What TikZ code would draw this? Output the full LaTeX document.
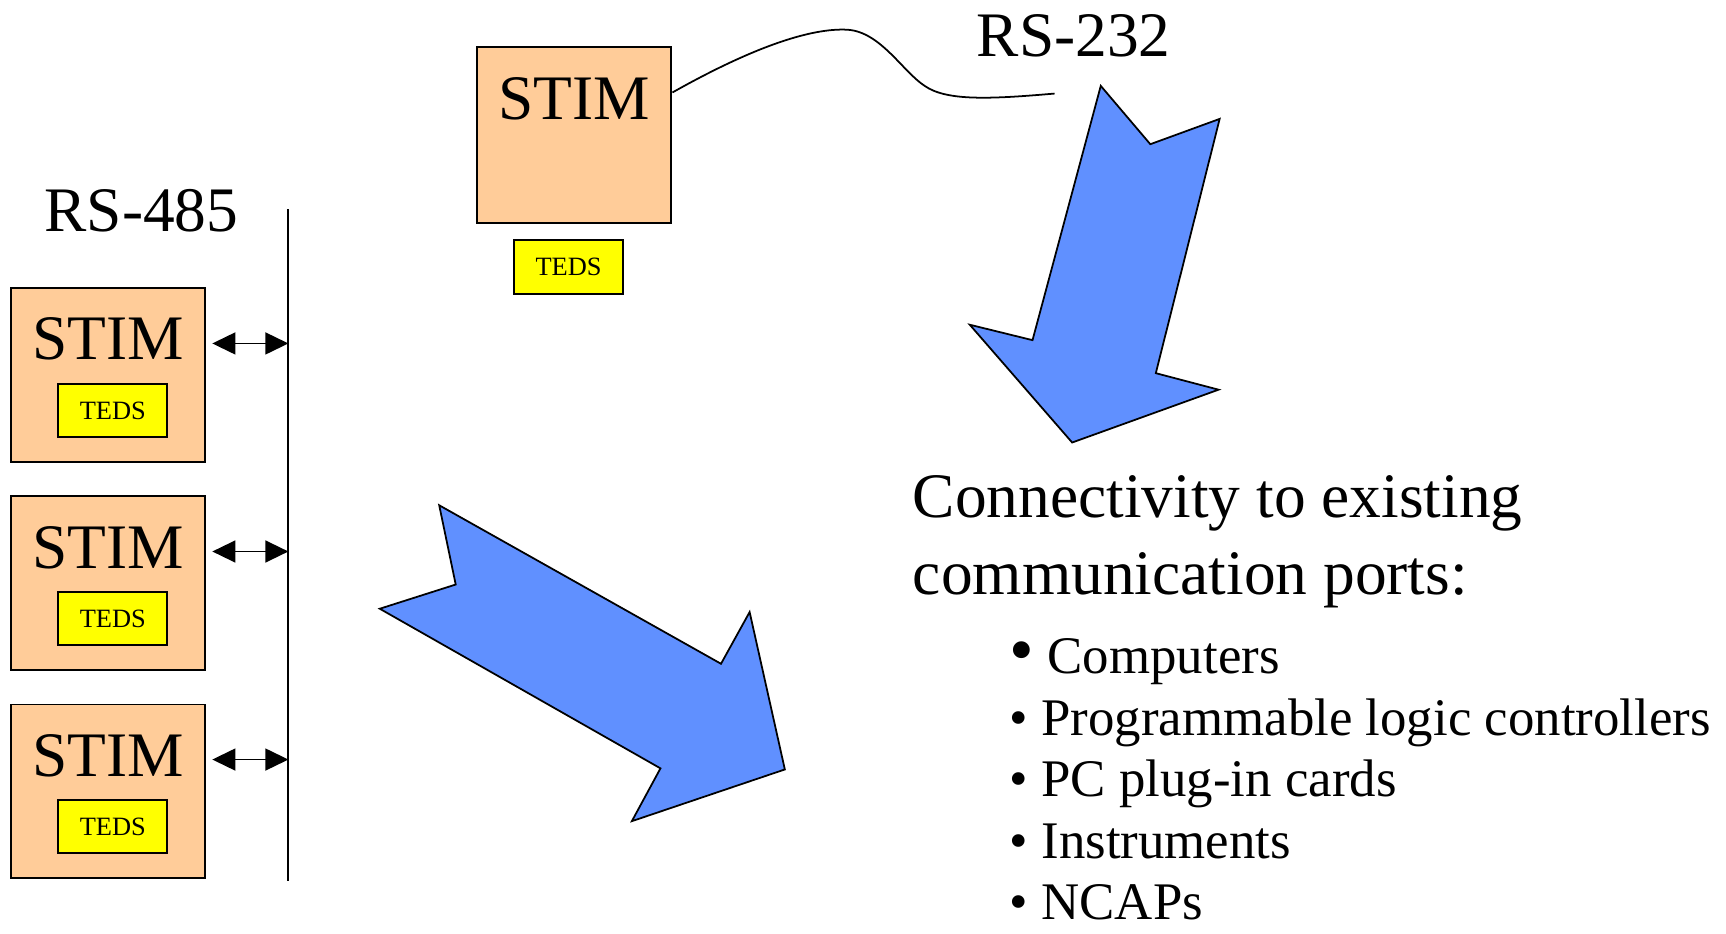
\documentclass[tikz,border=0pt]{standalone}
\usepackage{fontspec}
\setmainfont{Liberation Serif}
\usetikzlibrary{arrows.meta}
\definecolor{stimfill}{RGB}{255,204,153}
\definecolor{tedsfill}{RGB}{255,255,0}
\definecolor{arrowblue}{RGB}{96,144,255}
\begin{document}
\begin{tikzpicture}[x=0.5pt,y=-0.5pt,
  stimbox/.style={draw=black, line width=0.9pt, fill=stimfill, rectangle, inner sep=0pt},
  tedsbox/.style={draw=black, line width=0.9pt, fill=tedsfill, rectangle, inner sep=0pt, font=\fontsize{12}{14}\selectfont},
  bigtext/.style={font=\fontsize{28.8}{34}\selectfont, inner sep=0pt},
  itemtext/.style={font=\fontsize{24}{28}\selectfont, inner sep=0pt, anchor=base west},
  dbl/.style={{Triangle[length=10.5pt,width=10pt]}-{Triangle[length=10.5pt,width=10pt]}, line width=0.8pt},
  fatarrow/.style={draw=black, line width=0.8pt, fill=arrowblue, line join=miter}
]
\useasboundingbox (0,0) rectangle (1568,848);

% top STIM with RS-232 cable
\node[stimbox, minimum width=88.5pt, minimum height=80pt] (s0) at (521.5,123) {};
\node[bigtext, anchor=base] (s0t) at (521.5,109) {STIM};
\node[tedsbox, minimum width=49.5pt, minimum height=24.5pt] (t0) at (516.5,242.5) {TEDS};
\coordinate (cab) at (s0.east |- 0,84);
\coordinate (cabEnd) at (958,85);
\draw[line width=0.8pt] (cab) .. controls (680,45) and (735,25) .. (770,27)
  .. controls (800,29) and (820,65) .. (840,78)
  .. controls (860,92) and (900,90) .. (cabEnd);
\node[bigtext, anchor=base west] (rs232) at (887,51) {RS-232};

% RS-485 bus
\node[bigtext, anchor=base west] (rs485) at (40,210) {RS-485};
\coordinate (busTop) at (262,190);
\coordinate (busBot) at (262,800);
\draw[line width=0.9pt] (busTop) -- (busBot);

\foreach \i/\cy in {1/341,2/530,3/719}{
  \node[stimbox, minimum width=88pt, minimum height=79pt] (s\i) at (98,\cy) {};
  \node[bigtext, anchor=base] (s\i t) at (98,\cy-14) {STIM};
  \node[tedsbox, minimum width=49.5pt, minimum height=24pt] (t\i) at (102.5,\cy+32) {TEDS};
  \coordinate (b\i) at (262,\cy-29);
  \draw[dbl, shorten <=3pt] (s\i.east |- b\i) -- (b\i);
}

% big arrows
\draw[fatarrow] (1000,78) -- (1045,131) -- (1108,108) -- (1050,339) -- (1107,354)
  -- (974,402) -- (881,295) -- (938,309) -- cycle;
\draw[fatarrow] (399,459) -- (655,603) -- (681,556) -- (713,699) -- (574,746)
  -- (600,698) -- (345,553) -- (414,531) -- cycle;

% text
\node[bigtext, anchor=base west] (conn1) at (829,470) {Connectivity to existing};
\node[bigtext, anchor=base west] (conn2) at (829,540) {communication ports:};
\node[itemtext] (i1) at (917,612) {{\fontsize{32}{32}\selectfont\textbullet}\ Computers};
\node[itemtext] (i2) at (917,668) {\textbullet\ Programmable logic controllers};
\node[itemtext] (i3) at (917,724) {\textbullet\ PC plug-in cards};
\node[itemtext] (i4) at (917,779.5) {\textbullet\ Instruments};
\node[itemtext] (i5) at (917,835) {\textbullet\ NCAPs};
\end{tikzpicture}
\end{document}
